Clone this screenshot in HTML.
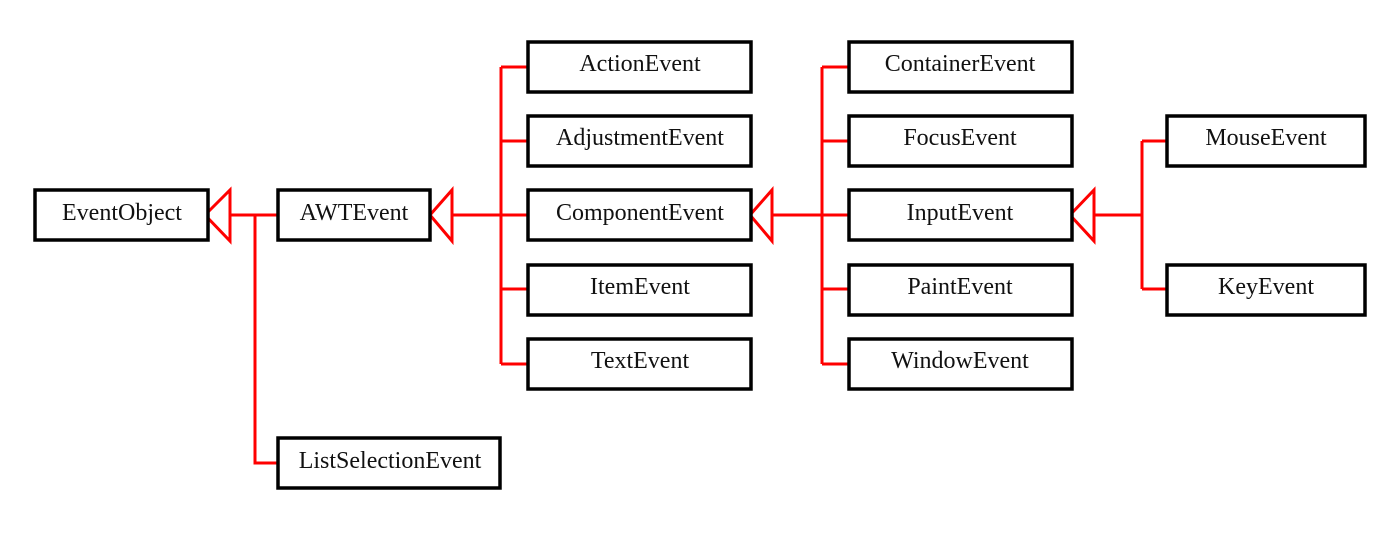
<!DOCTYPE html>
<html><head><style>
body{margin:0;background:#fff}
svg text{font-family:"Liberation Serif",serif;font-size:24px;fill:#111;text-anchor:middle;dominant-baseline:central}
</style></head><body>
<svg width="1385" height="539" viewBox="0 0 1385 539">
<g fill="none" stroke="#f00" stroke-width="3">
<path d="M230 215H278M255 215V463H278"/>
<path d="M205 215L230 190V241Z"/>
<path d="M452 215H528M501 67V364M501 67H528M501 141H528M501 289H528M501 364H528"/>
<path d="M430 215L452 190V241Z"/>
<path d="M772 215H849M822 67V364M822 67H849M822 141H849M822 289H849M822 364H849"/>
<path d="M750 215L772 190V241Z"/>
<path d="M1094 215H1142M1142 141V289M1142 141H1167M1142 289H1167"/>
<path d="M1070 215L1094 190V241Z"/>
</g>
<g fill="#fff" stroke="#000" stroke-width="3.5">
<rect x="35" y="190" width="173" height="50"/>
<rect x="278" y="190" width="152" height="50"/>
<rect x="278" y="438" width="222" height="50"/>
<rect x="528" y="42" width="223" height="50"/>
<rect x="528" y="116" width="223" height="50"/>
<rect x="528" y="190" width="223" height="50"/>
<rect x="528" y="265" width="223" height="50"/>
<rect x="528" y="339" width="223" height="50"/>
<rect x="849" y="42" width="223" height="50"/>
<rect x="849" y="116" width="223" height="50"/>
<rect x="849" y="190" width="223" height="50"/>
<rect x="849" y="265" width="223" height="50"/>
<rect x="849" y="339" width="223" height="50"/>
<rect x="1167" y="116" width="198" height="50"/>
<rect x="1167" y="265" width="198" height="50"/>
</g>
<text x="122" y="213">EventObject</text>
<text x="354" y="213">AWTEvent</text>
<text x="390" y="461">ListSelectionEvent</text>
<text x="640" y="64">ActionEvent</text>
<text x="640" y="138">AdjustmentEvent</text>
<text x="640" y="213">ComponentEvent</text>
<text x="640" y="287">ItemEvent</text>
<text x="640" y="361">TextEvent</text>
<text x="960" y="64">ContainerEvent</text>
<text x="960" y="138">FocusEvent</text>
<text x="960" y="213">InputEvent</text>
<text x="960" y="287">PaintEvent</text>
<text x="960" y="361">WindowEvent</text>
<text x="1266" y="138">MouseEvent</text>
<text x="1266" y="287">KeyEvent</text>
</svg>
</body></html>
